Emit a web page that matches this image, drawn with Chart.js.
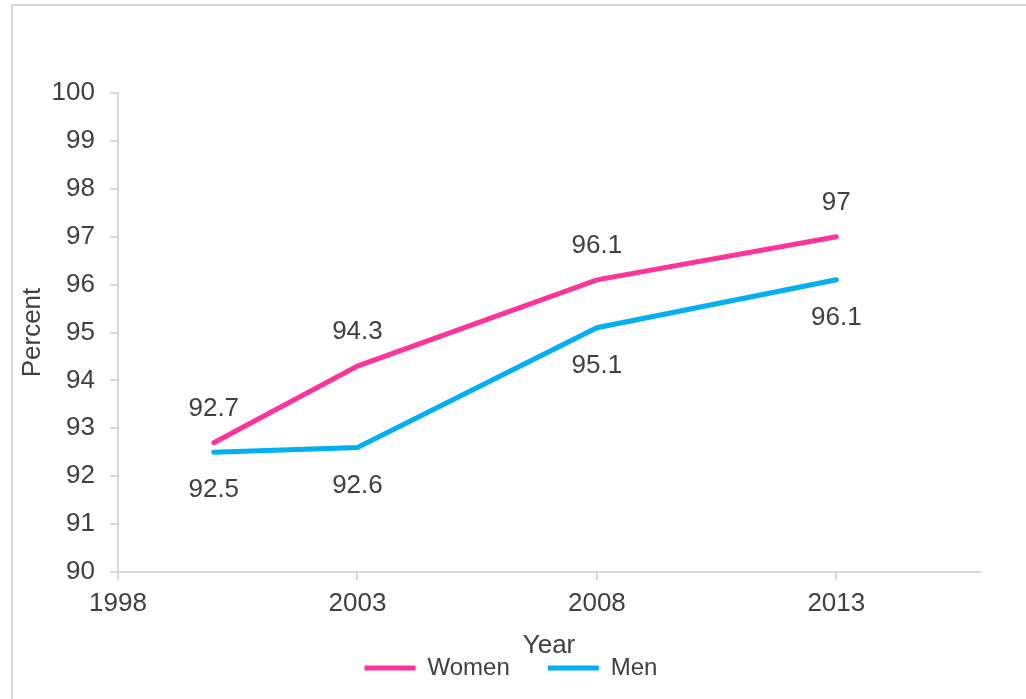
<!DOCTYPE html>
<html>
<head>
<meta charset="utf-8">
<script src="https://cdn.jsdelivr.net/npm/chart.js@4/dist/chart.umd.min.js"></script>
<style>
  html, body { margin: 0; padding: 0; background: #fff; overflow: hidden; }
  #frame {
    position: absolute; left: 11px; top: 4px; width: 1100px; height: 800px;
    border-left: 2px solid #d9d9d9; border-top: 2px solid #d9d9d9;
  }
  #wrap { position: absolute; left: 0; top: 0; width: 1026px; height: 699px; }
</style>
</head>
<body>
<div id="frame"></div>
<div id="wrap"><canvas id="chart" width="1026" height="699"></canvas></div>
<script>
const years = [2000, 2003, 2008, 2013];
const women = [92.7, 94.3, 96.1, 97];
const men = [92.5, 92.6, 95.1, 96.1];
const xTicks = [1998, 2003, 2008, 2013];

const textColor = '#404040';
const axisColor = '#d9d9d9';
const family = 'Liberation Sans, Arial, sans-serif';
const font = { family: family, size: 26 };
const legendFont = { family: family, size: 24 };

// value labels: women above the line, men below
const valueLabels = {
    id: 'valueLabels',
    afterDatasetsDraw(chart) {
        const ctx = chart.ctx;
        ctx.save();
        ctx.font = `${font.size}px ${font.family}`;
        ctx.fillStyle = textColor;
        ctx.textAlign = 'center';
        ctx.textBaseline = 'middle';
        chart.data.datasets.forEach((ds, i) => {
            const meta = chart.getDatasetMeta(i);
            const shift = i === 0 ? -34 : 38;
            meta.data.forEach((pt, j) => {
                ctx.fillText(String(ds.data[j].y), pt.x, pt.y + shift);
            });
        });
        ctx.restore();
    }
};

const toPoints = vals => vals.map((v, i) => ({ x: years[i], y: v }));

new Chart(document.getElementById('chart'), {
    type: 'line',
    data: {
        datasets: [
            {
                label: 'Women',
                data: toPoints(women),
                borderColor: '#ff3399',
                backgroundColor: '#ff3399',
                borderWidth: 5,
                borderCapStyle: 'round',
                pointRadius: 0,
                pointStyle: 'line'
            },
            {
                label: 'Men',
                data: toPoints(men),
                borderColor: '#00b0f0',
                backgroundColor: '#00b0f0',
                borderWidth: 5,
                borderCapStyle: 'round',
                pointRadius: 0,
                pointStyle: 'line'
            }
        ]
    },
    options: {
        responsive: false,
        animation: false,
        events: [],
        layout: { padding: { left: 42, right: 46, top: 93, bottom: 9 } },
        plugins: {
            tooltip: { enabled: false },
            legend: {
                position: 'bottom',
                labels: {
                    usePointStyle: true,
                    pointStyleWidth: 51,
                    padding: 38,
                    color: textColor,
                    font: legendFont
                }
            }
        },
        scales: {
            x: {
                type: 'linear',
                min: 1998,
                max: 2016,
                afterBuildTicks: s => { s.ticks = xTicks.map(v => ({ value: v })); },
                afterFit: s => { s.height = 46; },
                grid: { drawOnChartArea: false, drawTicks: true, tickLength: 8, color: axisColor, lineWidth: 2 },
                border: { color: axisColor, width: 2 },
                ticks: { color: textColor, font: font, padding: 8, maxRotation: 0, autoSkip: false, callback: v => String(v) },
                title: { display: true, text: 'Year', color: textColor, font: font, padding: { top: 0, bottom: -43.6 } }
            },
            y: {
                min: 90,
                max: 100,
                afterFit: s => { s.width = 76; },
                grid: { drawOnChartArea: false, drawTicks: true, tickLength: 8, color: axisColor, lineWidth: 2 },
                border: { color: axisColor, width: 2 },
                ticks: { stepSize: 1, color: textColor, font: font, padding: 15 },
                title: { display: true, text: 'Percent', color: textColor, font: font, padding: { top: -24.6, bottom: 0 } }
            }
        }
    },
    plugins: [valueLabels]
});
</script>
</body>
</html>
